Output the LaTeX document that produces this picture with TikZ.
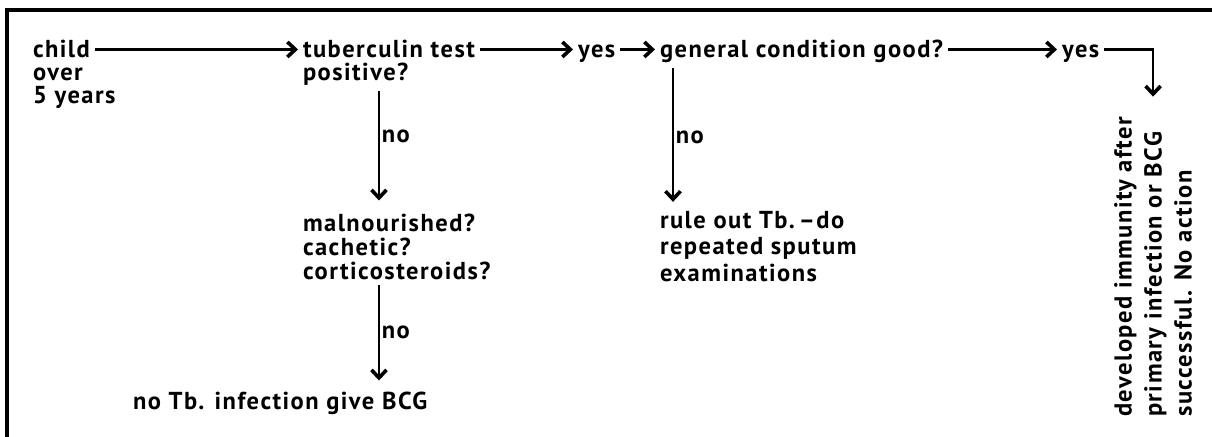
\documentclass[tikz,border=0pt]{standalone}
\usepackage{fontspec}
\setmainfont{PT Sans}
\usetikzlibrary{arrows.meta}
\newcommand{\dfont}{\bfseries\fontsize{24.5bp}{23bp}\selectfont\addfontfeature{LetterSpace=6}}
\begin{document}
\begin{tikzpicture}[x=1bp,y=-1bp,
  txt/.style={font=\dfont, inner sep=0pt, outer sep=5bp, anchor=base west},
  arr/.style={line width=2.8bp, -{Straight Barb[length=8bp,width=15bp,line width=3.6bp]}},
  lbl/.style={font=\dfont, inner sep=1.5bp, anchor=west}]
\useasboundingbox[fill=white] (0,0) rectangle (1212,437);
\draw[line width=3.5bp] (7,437) -- (7,10) -- (1212,10);
% row 1
\node[txt] (child) at (28,58) {child};
\node[txt] (over)  at (28,81) {over};
\node[txt] (years) at (28,104) {5 years};
\node[txt] (tub)   at (298,58) {tuberculin test};
\node[txt] (pos)   at (298,81) {positive?};
\node[txt] (yes1)  at (573,58) {yes};
\node[txt] (gen)   at (655,58) {general condition good?};
\node[txt] (yes2)  at (1057,58) {yes};
% second tier
\node[txt] (mal)   at (298,232) {malnourished?};
\node[txt] (cach)  at (298,256) {cachetic?};
\node[txt] (cort)  at (298,280) {corticosteroids?};
\node[txt] (rule)  at (655,229) {rule out Tb.\,\textendash do};
\node[txt] (rep)   at (655,255) {repeated sputum};
\node[txt] (exam)  at (655,282) {examinations};
\node[txt] (notb)  at (128,410) {no Tb. infection give BCG};
% vertical outcome
\node[font=\bfseries\fontsize{24.5bp}{30bp}\selectfont\addfontfeature{LetterSpace=6}, inner sep=0pt, align=left, rotate=90, anchor=north west] (vt) at (1114,417)
  {developed immunity after\\primary infection or BCG\\successful. No action};
% coordinates for vertical connectors
\coordinate (c1) at (379,0);
\coordinate (c3) at (673,0);
% connectors along row 1
\draw[arr] (child.east) -- (child.east -| tub.west);
\draw[arr] (tub.east) -- (tub.east -| yes1.west);
\draw[arr] (yes1.east |- tub.east) -- (tub.east -| gen.west);
\draw[arr] (gen.east |- tub.east) -- (tub.east -| yes2.west);
\draw[arr] (yes2.east |- tub.east) -| ([yshift=20bp]vt.east);
% vertical connectors
\draw[arr, shorten >=9bp] (pos.south -| c1) -- (mal.north -| c1) node[lbl, pos=0.38] {no};
\draw[arr, shorten >=7bp] (cort.south -| c1) -- (notb.north -| c1) node[lbl, pos=0.46] {no};
\draw[arr, shorten >=5bp] (gen.south -| c3) -- (rule.north -| c3) node[lbl, pos=0.5] {no};
\end{tikzpicture}
\end{document}
